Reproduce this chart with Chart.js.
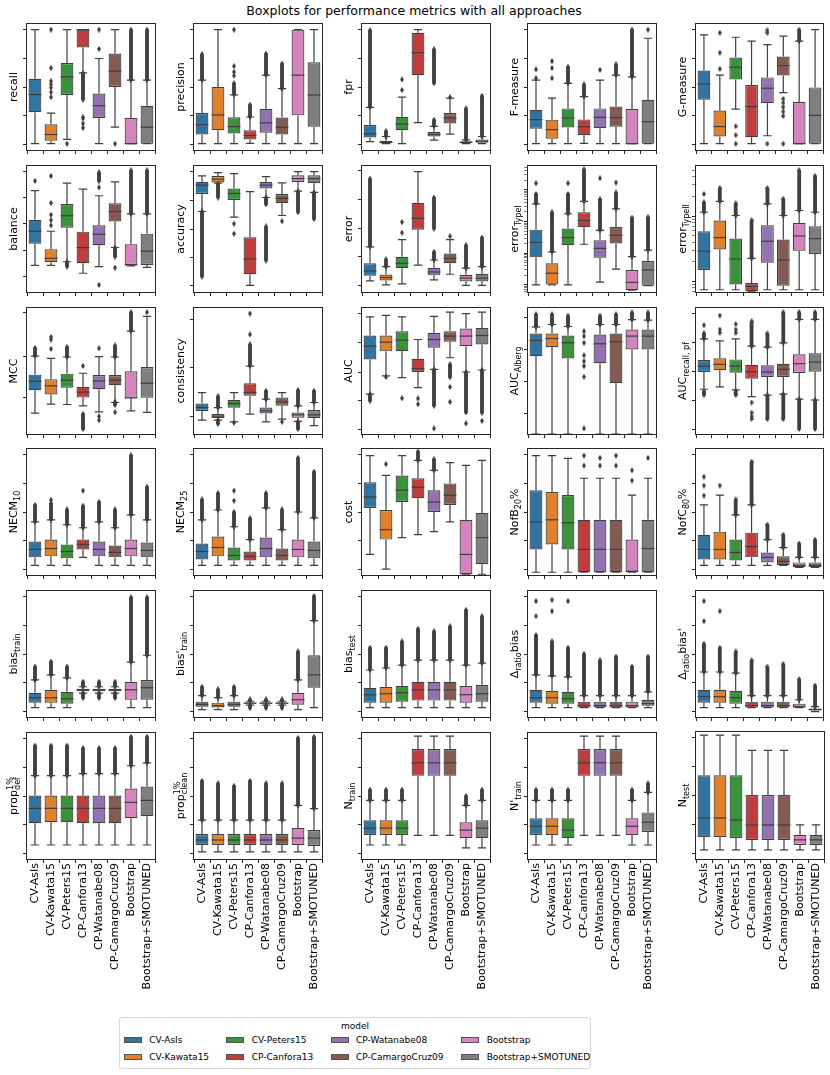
<!DOCTYPE html>
<html>
<head>
<meta charset="utf-8">
<script src="https://cdn.jsdelivr.net/npm/chart.js@4.4.1/dist/chart.umd.min.js"></script>
<style>
  body { margin: 0; background: #fff; font-family: "DejaVu Sans", sans-serif; }
  #fig { position: relative; width: 830px; height: 1075px; overflow: hidden; }
  #title { position: absolute; left: 0; width: 828px; top: 3px; text-align: center; font-size: 12.5px; color: #000; }
  #legend { position: absolute; left: 119px; top: 1017px; width: 472px; height: 52px; border: 1px solid #d8d8d8; border-radius: 3px; box-sizing: border-box; }
  .lg-title { position: absolute; left: 0; width: 100%; top: 3px; text-align: center; font-size: 9px; }
  .lg-patch { position: absolute; width: 18px; height: 6px; border: 1px solid #555; box-sizing: border-box; }
  .lg-text { position: absolute; font-size: 9px; line-height: 11px; white-space: nowrap; }
</style>
</head>
<body>
<div id="fig">
  <div id="title">Boxplots for performance metrics with all approaches</div>
  <div id="legend"><div class="lg-title">model</div></div>
</div>
<script>
const models = ["CV-AsIs", "CV-Kawata15", "CV-Peters15", "CP-Canfora13", "CP-Watanabe08", "CP-CamargoCruz09", "Bootstrap", "Bootstrap+SMOTUNED"]
const colors = ["#3274a1", "#e1812c", "#3a923a", "#c03d3e", "#9372b2", "#845b53", "#d684bd", "#7f7f7f"]

// values are read off the picture, 0 = bottom of a panel, 100 = top
// each model: [lower whisker, q1, median, q3, upper whisker]
// outliers: a number is one diamond, [a, b] is a dense run of diamonds
const recall = [[5, 30, 44, 56.5, 95.5], [5, 7.4, 12.3, 20.4, 29.3], [8.4, 43.7, 58.1, 69.1, 95.5], [61.2, 81.4, 95.5, 95.5, 95.5], [5, 25.4, 35.1, 44.8, 72.6], [18.1, 50, 62.6, 76.5, 95.5], [5, 5, 5, 25.4, 55.5], [5, 5, 18.1, 35.1, 55.5]]
const recallOut = [[], [42, 45.8, 49.5, 52.1, 54.7, 65.1, 95.5], [5], [[40, 61], 26, 25, 21, 17.6], [80.2, 95.5], [5], [[55.5, 95.5]], [[55.5, 95.5]]]

const precision = [[5, 12.3, 20.2, 29.3, 55.5], [5, 15.7, 27.8, 50, 95.5], [5, 13.1, 18.6, 25.9, 43.7], [5.3, 8.4, 11.5, 15.7, 26.2], [5, 13.7, 21.5, 32.7, 59.4], [5, 12.3, 18.1, 25.7, 48.7], [5, 27.5, 59.4, 95.5, 95.5], [5, 18.4, 43.7, 69.6, 95.5]]
const precisionOut = [[[55.5, 76]], [], [[44, 53], 59, 62, 66.5, 95.5], [[26.2, 36]], [[59.4, 76.5]], [[48.7, 68.6]], [], []]

const fpr = [[6.6, 10, 12.9, 19.9, 33.8], [5, 5.3, 6, 7.4, 10.7], [5, 15.7, 20.7, 26.4, 41.9], [21.7, 59.4, 77.3, 93, 95.5], [7.9, 10.7, 12.4, 14.4, 18.8], [12.6, 21, 25.4, 29.3, 41.1], [5, 5.3, 6, 7, 8], [5, 5.8, 7, 8.4, 10.7]]
const fprOut = [[[34, 95]], [[10.7, 15]], [47.6, 56], [], [[19, 24], [53, 80]], [41.9], [[8, 33]], [[10.7, 43]]]

const fMeasure = [[5, 16.8, 24.1, 32, 55.5], [5, 9, 16.2, 24.1, 41.1], [5, 17.8, 25.4, 33, 52.9], [5.3, 11.8, 18.4, 24.3, 42.4], [5, 17.3, 25.9, 33, 55.5], [5, 18.4, 25.7, 34.5, 59.4], [5, 5, 5, 32.5, 58.1], [5, 5, 22.4, 39.8, 88.7]]
const fMeasureOut = [[57, 64], [57, 65, 70.5], [[53, 66]], [[42.4, 52]], [63.6], [[59.4, 68]], [[58.1, 95.5]], [95.5]]

const gMeasure = [[5, 39.8, 52.3, 63.1, 91.3], [5, 10.8, 18.6, 31.4, 59.4], [32.5, 56, 65.7, 73.4, 89.5], [5, 10.2, 34.5, 51.6, 86.4], [11.3, 37.2, 49, 57.6, 83.7], [45.5, 59.2, 67, 74.2, 90.3], [5, 5, 5, 38, 86.4], [5, 5, 27.5, 49.7, 95.5]]
const gMeasureOut = [[], [64.4, 77.3, 93], [18.8, 11.8, 5], [], [5, 93, 95], [40.6, 37.5, 34, 30.5, 27, 5], [[86.4, 95.5]], []]

const balance = [[21.2, 38.2, 48.2, 57.3, 80.4], [21.2, 23.6, 26.7, 34, 48.2], [24, 51, 60.5, 69.9, 86.4], [14.9, 22.8, 35.3, 47.9, 81.7], [20.1, 37.2, 45.8, 52.9, 76.4], [35.3, 56, 63.9, 70.4, 87.4], [20.7, 21.5, 21.5, 37.9, 62], [19.6, 21.5, 32.4, 46.3, 62]]
const balanceOut = [[88.2], [52.9, 57, 61.3, 70.7, 92.1], [[20.1, 24]], [], [[88, 95], 83, 5.7], [[28, 35.3], 19.3], [[62, 96.6]], [[62, 96.6]]]

const accuracy = [[63.9, 77.8, 84.8, 87.4, 92.1], [86.4, 87, 89.5, 92.1, 94.7], [59.4, 73, 78.2, 82.2, 94], [5.2, 14.1, 26.2, 43.4, 79.6], [75, 82.2, 84.8, 87.4, 91.6], [60.7, 70.4, 74.3, 77.8, 86.6], [80, 87.4, 90, 92.7, 95.5], [79, 86.4, 90, 92.7, 95.5]]
const accuracyOut = [[[12.3, 63.9]], [[75, 86]], [54.2, 46.3], [], [[69.5, 75], [25, 52]], [56.2], [[63.3, 80]], [[58, 79]]]

const error = [[8.9, 12.8, 16.7, 22.8, 35.8], [5.7, 9.1, 11.5, 13.8, 20.1], [6.5, 18.9, 22.8, 28, 41.6], [21.4, 49.5, 58.4, 70.7, 95.5], [9.7, 13.2, 15.9, 19.3, 25.4], [14.1, 22.8, 26.7, 30.6, 41.6], [5.2, 8.3, 11, 13.6, 18.9], [5.2, 8.3, 11, 14.4, 20.1]]
const errorOut = [[[36, 90]], [[20.1, 25.9]], [47.1, 55.5], [], [[25.4, 31.9], [50.3, 75]], [44.2], [[18.9, 37.2]], [[20.1, 43.2]]]

const errorTypeI = [[5.7, 27.5, 39.3, 49.5, 69.9], [5.7, 6, 14.9, 22.8, 31.9], [5.7, 37.2, 43.2, 50.3, 62.1], [37.9, 51.5, 56.8, 63.3, 72], [7.9, 27.2, 34.6, 41.1, 48.9], [18.1, 38.5, 45, 51.5, 66], [1.5, 1.5, 7.6, 17.5, 28], [5, 5, 17.5, 24.6, 33.2]]
const errorTypeIOut = [[[70, 77.8], 86.4], [[31.9, 63.3]], [[62.1, 77.8], 86.4], [[72, 97.4]], [[48.9, 73.8], 90.3], [[66, 79], 86.9], [[28, 59]], [[33.2, 59.4]]]

const errorTypeII = [[1.8, 17.5, 32.4, 48.2, 63.3], [1.8, 33.8, 43.2, 56.8, 72], [1.8, 6, 26.2, 42.4, 60.7], [0.6, 0.6, 4.5, 7.1, 26.7], [1.8, 23.3, 40.3, 52.9, 69.9], [1.8, 5, 25.4, 41.6, 60.7], [1.8, 32.7, 44.5, 54.7, 64.7], [1.8, 30.1, 42.4, 52.1, 63.3]]
const errorTypeIIOut = [[[63.3, 71.2], 77.8], [[72, 82.5]], [[60.7, 70.4]], [[26.7, 57]], [[69.9, 82.5]], [[60.7, 74]], [[64.7, 96.6]], [[63.3, 92.1]]]

const mcc = [[16.6, 34.8, 41.9, 47.1, 61.8], [23.7, 31.3, 38.2, 43.4, 60], [23.4, 36.8, 42.7, 47.9, 61.1], [22.4, 28.9, 33.2, 37.4, 48.2], [17.6, 35.6, 42.1, 46.8, 61.4], [25, 38.7, 42.7, 46.8, 61.1], [18.4, 28.7, 28.7, 49.8, 81.6], [17.1, 28.7, 40.3, 53.2, 93.4]]
const mccOut = [[[61.8, 68.4]], [67.6, 75, 77], [[61.1, 69]], [54, [4, 16]], [68, 14, 11], [[61.1, 70.3], [23, 25.5], 17.3], [[81.6, 96.6]], [96.6]]

const consistency = [[11, 18.2, 21, 24.2, 32.9], [11, 12.6, 14.2, 15.8, 21], [9.7, 20.8, 24.2, 27.1, 32.9], [15.8, 30.3, 32.9, 40.3, 53.9], [9.7, 16.3, 18.4, 21, 27.6], [11.8, 22.4, 25.5, 28.9, 32.9], [10, 12.9, 15.2, 17.1, 22.4], [6.6, 12.6, 15.2, 19, 25]]
const consistencyOut = [[], [[21, 30], [8, 11]], [8.9], [[53.9, 71.1], 79, 95.6], [[27.6, 34.2]], [9.7], [[22.4, 34.8], [4, 10]], [[25, 34.2]]]

const auc = [[31.6, 59.2, 69.7, 78.2, 92.9], [46.1, 65.6, 72.9, 78.2, 94.2], [44.7, 65.8, 74.5, 81.6, 92.9], [36.8, 49.2, 51.8, 59.7, 75], [51.3, 68.4, 75, 80.3, 93.4], [60.5, 73.2, 77.7, 81.6, 96.7], [49.2, 69.7, 77.7, 83.7, 95.6], [50.8, 71.1, 78.2, 84.2, 96.7]]
const aucOut = [[[26.3, 31.6]], [45.2], [28.4], [28.2, 23.7], [[22.4, 51.3], 4.4], [[45, 55.3], 37.4, 25.5], [[17.1, 49.2], 8.4], [[16.8, 50.8], 10.5]]

const aucAlberg = [[0, 61.8, 74.2, 79.8, 85], [0, 69, 75.8, 79.8, 86.9], [0, 60, 72.4, 78.2, 85.3], null, [0, 56.1, 71.6, 79, 86.9], [0, 40.3, 73.2, 79.8, 86.9], [0, 67.1, 77.7, 82.9, 90.8], [0, 67.1, 77.7, 82.9, 90.3]]
const aucAlbergOut = [[[85, 95]], [[86.9, 95]], [[85.3, 94]], [81.6, 77.6, 72.4, 62.4, 57.8, 53.9, 45.4, 4.4], [[86.9, 94]], [[86.9, 95]], [[90.8, 96.5]], [[90.3, 96.5]]]

const aucRecallPf = [[35.5, 49.2, 53.9, 58.7, 75.5], [37.4, 50.6, 55.3, 60.1, 73.9], [35, 48.7, 53.9, 59.2, 75.5], [29.7, 43.9, 49.5, 55, 69.7], [30.8, 45.2, 49.2, 54.5, 68.9], [31.6, 45.2, 51.3, 55.8, 72.4], [27.6, 48.5, 55.8, 63.2, 91], [27, 49.5, 57.1, 64, 91]]
const aucRecallPfOut = [[[31, 34], [75.5, 80], 86.3], [80.3, 82.9, 94], [[31, 34], 80.3, 82.9, 87.2], [[69.7, 89.5], 25, 17, 14, 12], [[68.9, 79.8], [11.8, 30.8]], [[72.4, 96.6], [11.8, 31.6]], [[91, 96.7], [4, 27.6]], [[91, 96.7], [4, 27]]]

const necm10 = [[7.7, 14, 20.3, 26.5, 42.2], [7.7, 14.8, 21, 28.1, 43.8], [7.7, 13.2, 18.7, 24.2, 39.9], [14, 20.3, 24.2, 28.1, 37.5], [7.7, 14.8, 20.3, 26.5, 42.2], [7.7, 14, 17.9, 23.4, 37.5], [7.7, 14.8, 21, 28.1, 47.7], [7.7, 14, 19.5, 25.7, 43.8]]
const necm10Out = [[[42.2, 55.6]], [[43.8, 57], 59.5], [[39.9, 52]], [[37.5, 55], 67], [[42.2, 58]], [[37.5, 52]], [[47.7, 95]], [[43.8, 70]]]

const necm25 = [[7.7, 12.4, 18.7, 25, 43.8], [7.7, 14.8, 21.8, 30.5, 51.6], [7.7, 11.6, 15.5, 21.8, 38.3], [7.7, 11.6, 14.8, 18.7, 28.1], [7.7, 14, 21, 29.7, 53.2], [7.7, 11.6, 15.5, 21, 36], [7.7, 14, 20.3, 28.1, 50], [7.7, 13.2, 19.5, 26.5, 45.4]]
const necm25Out = [[[43.8, 60]], [[51.6, 65]], [[38.3, 50], 59, 67], [[28.1, 45]], [[53.2, 65]], [[36, 52]], [[50, 93]], [[45.4, 82]]]

const cost = [[16.3, 53.2, 61.9, 73.6, 94.8], [4.6, 28.1, 36, 51.6, 79], [29.7, 57.9, 67.3, 79, 94.8], [32, 61, 69.7, 76.8, 90.9], [34.4, 50, 57.9, 67.3, 83], [42.2, 55.5, 63.3, 72.7, 89.2], [0.6, 0.6, 16.3, 43.8, 87], [0.6, 8.5, 29.7, 49.3, 90.9]]
const costOut = [[], [88], [], [[90.9, 98]], [[83, 92]], [], [], []]

const nofB20 = [[2.2, 20.3, 42.2, 67.3, 94.8], [2.2, 24.2, 43.8, 65.8, 94.8], [2.2, 20.3, 41.4, 63.4, 92.5], [2.2, 2.2, 20.3, 43.8, 76.8], [2.2, 2.2, 20.3, 43.8, 76.8], [2.2, 2.2, 20.3, 43.8, 76.8], [2.2, 2.2, 3, 28.1, 63.4], [2.2, 2.2, 21, 43.8, 76.8]]
const nofB20Out = [[], [], [], [86.9, 94.8], [86.9, 93], [86.9, 94.8], [75, 83], [93]]

const nofC80 = [[7.7, 12.4, 20.3, 32, 55.6], [7.7, 12.4, 20.3, 34.4, 63.4], [7.7, 11.6, 17.9, 28.1, 47.7], [7.7, 14, 22.6, 33.6, 55.6], [7.7, 10, 14, 17.9, 28.1], [7.7, 7.7, 10.8, 14.8, 21.8], [6.1, 6.1, 7.7, 10, 14], [6.1, 6.1, 7.7, 10, 14]]
const nofC80Out = [[63, 71, 78], [71], [[47.7, 60]], [[55.6, 90]], [[28.1, 40]], [[21.8, 32]], [[14, 25]], [[14, 28]]]

const biasTrain = [[7.5, 11.4, 15.3, 19.2, 29.4], [7.5, 11.4, 15.3, 21.6, 33.4], [7.5, 10.6, 14.5, 20, 31], [19, 20.5, 21.5, 22.5, 24], [19, 20.5, 21.5, 22.5, 24], [19, 20.5, 21.5, 22.5, 24], [7.5, 13.7, 21.6, 27.9, 43.6], [7.5, 13.7, 23.2, 29.4, 49]]
const biasTrainOut = [[[29.4, 40]], [[33.4, 44]], [[31, 40]], [[24, 28], [15, 19]], [[24, 28], [15, 19]], [[24, 28], [15, 19]], [[43.6, 95]], [[49, 95]]]

const biasTrainP = [[5.9, 8.2, 9.8, 12.2, 16.9], [5.9, 7.5, 9, 11.4, 15.3], [5.9, 8.2, 9.8, 12.2, 16.9], [9.5, 10.5, 11, 11.5, 12.5], [9.5, 10.5, 11, 11.5, 12.5], [9.5, 10.5, 11, 11.5, 12.5], [5.9, 9.8, 13.7, 19.2, 29.4], [7.5, 23.2, 33.4, 49, 76.5]]
const biasTrainPOut = [[[16.9, 24]], [[15.3, 22]], [[16.9, 24]], [[12.5, 14], [7, 9.5]], [[12.5, 14], [7, 9.5]], [[12.5, 14], [7, 9.5]], [[29.4, 52]], [[76.5, 96]]]

const biasTest = [[7.5, 11.4, 17.7, 23.2, 37.3], [7.5, 11.4, 18.5, 23.9, 38.9], [7.5, 12.2, 19.2, 24.7, 41.2], [7.5, 13, 21.6, 27.9, 45.1], [7.5, 13, 21.6, 27.9, 45.1], [7.5, 13, 21.6, 27.9, 45.1], [7.5, 11.4, 17.7, 24.7, 41.2], [7.5, 12.2, 18.5, 25.5, 42.8]]
const biasTestOut = [[[37.3, 55]], [[38.9, 55]], [[41.2, 60]], [[45.1, 70]], [[45.1, 68]], [[45.1, 72]], [[41.2, 85]], [[42.8, 80]]]

const deltaBias = [[7.5, 11.4, 15.3, 21.6, 33.4], [7.5, 10.6, 15.3, 20.8, 32.6], [7.5, 10.6, 14.5, 20, 31.8], [7.5, 7.5, 9, 12.2, 16.9], [7.5, 7.5, 9, 12.2, 16.9], [7.5, 7.5, 9, 12.2, 16.9], [7.5, 7.5, 9, 12.2, 16.9], [7.5, 9, 10.6, 13.7, 20]]
const deltaBiasOut = [[[33.4, 65], 80, 92], [[32.6, 60], 84, 93], [[31.8, 55], 92], [[16.9, 50]], [[16.9, 45]], [[16.9, 48]], [[16.9, 40]], [[20, 48]]]

const deltaBiasP = [[7.5, 11.4, 16.1, 21.6, 35.7], [7.5, 11.4, 16.1, 21.6, 35.7], [7.5, 10.6, 15.3, 20.8, 34.8], [7.5, 7.5, 9, 12.2, 16.9], [7.5, 7.5, 9, 12.2, 16.9], [7.5, 7.5, 9, 12.2, 16.9], [7.5, 7.5, 8.2, 10.6, 13.7], [4.3, 5.1, 5.9, 6.7, 8.2]]
const deltaBiasPOut = [[[35.7, 58], 76, 92], [[35.7, 55], 84], [[34.8, 52]], [[16.9, 45]], [[16.9, 40]], [[16.9, 42]], [[13.7, 30]], [[8.2, 25]]]

const propDef = [[11.1, 28.4, 40.2, 50.4, 66.1], [11.1, 29.2, 40.2, 50.4, 66.1], [11.1, 29.2, 40.2, 50.4, 66.1], [11.1, 28.4, 40.2, 50.4, 67.7], [11.1, 28.4, 40.2, 50.4, 67.7], [11.1, 28.4, 40.2, 50.4, 67.7], [11.1, 32.4, 44.9, 55.9, 74], [11.1, 34, 46.5, 57.5, 76.3]]
const propDefOut = [[[66.1, 90]], [[66.1, 90]], [[66.1, 90]], [[67.7, 88]], [[67.7, 88]], [[67.7, 88]], [[74, 97]], [[76.3, 97]]]

const propClean = [[5.7, 11.1, 15.1, 19.8, 30.8], [5.7, 11.1, 15.1, 19.8, 30.8], [5.7, 11.1, 15.1, 19.8, 30.8], [5.7, 11.1, 15.1, 19.8, 30.8], [5.7, 11.1, 15.1, 19.8, 30.8], [5.7, 11.1, 15.1, 19.8, 30.8], [5.7, 11.1, 16.6, 24.6, 42.5], [5.7, 10.3, 16.6, 23, 40]]
const propCleanOut = [[[30.8, 62]], [[30.8, 60]], [[30.8, 58]], [[30.8, 62]], [[30.8, 60]], [[30.8, 60]], [[42.5, 96]], [[40, 97]]]

const nTrain = [[11.1, 19, 24.5, 30.8, 46.5], [11.1, 19, 24.5, 30.8, 46.5], [11.1, 19, 24.5, 30.8, 46.5], [18.8, 66, 76.3, 87.3, 97.5], [18.8, 66, 76.3, 87.3, 97.5], [18.8, 66, 76.3, 87.3, 97.5], [8.8, 16.6, 22.9, 29.2, 42.5], [8.8, 16.6, 24.5, 30.8, 46.5]]
const nTrainOut = [[[46.5, 55]], [[46.5, 55]], [[46.5, 55]], [], [], [], [[42.5, 50]], [[46.5, 55]]]

const nTrainP = [[11.1, 19, 26, 32.3, 46.5], [11.1, 19, 26, 32.3, 46.5], [11.1, 16.6, 22.9, 32.3, 46.5], [18.8, 66, 76.3, 87.3, 97.5], [18.8, 66, 76.3, 87.3, 97.5], [18.8, 66, 76.3, 87.3, 97.5], [11.1, 19, 26, 32.3, 46.5], [11.1, 21.4, 29.2, 37, 52.8]]
const nTrainPOut = [[[46.5, 55]], [[46.5, 55]], [[46.5, 55]], [], [], [], [[46.5, 55]], [[52.8, 60]]]

const nTest = [[7.2, 17.4, 32.3, 66, 97.5], [7.2, 17.4, 32.3, 66, 97.5], [7.2, 16.6, 30.8, 66, 97.5], [7.2, 15, 26.8, 50.4, 85.6], [7.2, 15, 26.8, 50.4, 85.6], [7.2, 15, 26.8, 50.4, 85.6], [7.2, 11.1, 15.1, 19, 26.8], [7.2, 11.1, 15.1, 19, 26.8]]
const nTestOut = [[], [], [], [], [], [], [], []]

// y tick positions (same 0-100 panel units)
const tLin = [4.5, 27.3, 50, 72.7, 95.5]
const tBalance = [12, 33, 54, 75, 96]
const tAccuracy = [5, 27.5, 50, 73, 96]
const tError = [5.2, 28, 50.5, 73.5, 96.6]
const tTypeI = { major: [5.7, 30.6, 56, 81], decade: 25.2 }
const tTypeII = { major: [8.3, 60.2], decade: 51.9 }
const tMcc = [28.9, 61.8, 96.6]
const tConsistency = [13.9, 52.6, 90.8]
const tAuc = [3.2, 26.3, 49.2, 72.4, 95.6]
const tAlberg = [16.3, 41.3, 67.1, 92.1]
const tRecallPf = [3.4, 26.3, 49.4, 72.9, 95.6]

const panels = [
  { label: [["recall"]], box: recall, out: recallOut, ticks: tLin },
  { label: [["precision"]], box: precision, out: precisionOut, ticks: tLin },
  { label: [["fpr"]], box: fpr, out: fprOut, ticks: tLin },
  { label: [["F-measure"]], box: fMeasure, out: fMeasureOut, ticks: tLin },
  { label: [["G-measure"]], box: gMeasure, out: gMeasureOut, ticks: tLin },
  { label: [["balance"]], box: balance, out: balanceOut, ticks: tBalance },
  { label: [["accuracy"]], box: accuracy, out: accuracyOut, ticks: tAccuracy },
  { label: [["error"]], box: error, out: errorOut, ticks: tError },
  { label: [["error"], ["TypeI", "sub"]], box: errorTypeI, out: errorTypeIOut, ticks: tTypeI },
  { label: [["error"], ["TypeII", "sub"]], box: errorTypeII, out: errorTypeIIOut, ticks: tTypeII },
  { label: [["MCC"]], box: mcc, out: mccOut, ticks: tMcc },
  { label: [["consistency"]], box: consistency, out: consistencyOut, ticks: tConsistency },
  { label: [["AUC"]], box: auc, out: aucOut, ticks: tAuc },
  { label: [["AUC"], ["Alberg", "sub"]], box: aucAlberg, out: aucAlbergOut, ticks: tAlberg },
  { label: [["AUC"], ["recall, pf", "sub"]], box: aucRecallPf, out: aucRecallPfOut, ticks: tRecallPf },
  { label: [["NECM"], ["10", "sub"]], box: necm10, out: necm10Out, ticks: tLin },
  { label: [["NECM"], ["25", "sub"]], box: necm25, out: necm25Out, ticks: tLin },
  { label: [["cost"]], box: cost, out: costOut, ticks: tLin },
  { label: [["NofB"], ["20", "sub"], ["%"]], box: nofB20, out: nofB20Out, ticks: tLin },
  { label: [["NofC"], ["80", "sub"], ["%"]], box: nofC80, out: nofC80Out, ticks: tLin },
  { label: [["bias"], ["train", "sub"]], box: biasTrain, out: biasTrainOut, ticks: tLin },
  { label: [["bias'"], ["train", "sub"]], box: biasTrainP, out: biasTrainPOut, ticks: tLin },
  { label: [["bias"], ["test", "sub"]], box: biasTest, out: biasTestOut, ticks: tLin },
  { label: [["Δ"], ["ratio", "sub"], ["bias"]], box: deltaBias, out: deltaBiasOut, ticks: tLin },
  { label: [["Δ"], ["ratio", "sub"], ["bias'"]], box: deltaBiasP, out: deltaBiasPOut, ticks: tLin },
  { label: [["prop"], ["1%", "sup"], ["def", "sub"]], box: propDef, out: propDefOut, ticks: tLin },
  { label: [["prop"], ["1%", "sup"], ["clean", "sub"]], box: propClean, out: propCleanOut, ticks: tLin },
  { label: [["N"], ["train", "sub"]], box: nTrain, out: nTrainOut, ticks: tLin },
  { label: [["N'"], ["train", "sub"]], box: nTrainP, out: nTrainPOut, ticks: tLin },
  { label: [["N"], ["test", "sub"]], box: nTest, out: nTestOut, ticks: tLin }
]

Chart.defaults.font.family = '"DejaVu Sans", sans-serif'
Chart.defaults.animation = false

const lineColor = "#3f3f3f"
const frameColor = "#262626"
const colLeft = [27, 194, 362, 528, 696]
const rowTop = [23, 165, 307, 448, 590, 732]
const plotW = 129, plotH = 127
const padL = 32, padT = 4, padR = 4

// thin diamond used for the fliers
const diamond = document.createElement("canvas")
diamond.width = 4
diamond.height = 6
const dctx = diamond.getContext("2d")
dctx.fillStyle = lineColor
dctx.beginPath()
dctx.moveTo(2, 0); dctx.lineTo(4, 3); dctx.lineTo(2, 6); dctx.lineTo(0, 3)
dctx.closePath()
dctx.fill()

function tickList(spec) {
  if (Array.isArray(spec)) return spec.map(v => ({ value: v }))
  const list = []
  const starts = [spec.major[0] - spec.decade].concat(spec.major)
  starts.forEach((m, i) => {
    if (i > 0) list.push({ value: m })
    for (let k = 2; k < 10; k++) list.push({ value: m + spec.decade * Math.log10(k), minor: true })
  })
  return list.filter(t => t.value >= 0 && t.value <= 100)
}

function drawLabel(ctx, parts, cx, cy) {
  const big = '11px "DejaVu Sans"', small = '8px "DejaVu Sans"'
  const items = []
  let w = 0, prev = null, supStart = 0, supW = 0
  ctx.save()
  parts.forEach(([text, kind = "n"]) => {
    ctx.font = kind === "n" ? big : small
    const tw = ctx.measureText(text).width
    if (kind === "sub" && prev === "sup") {
      items.push({ text, kind, x: supStart })
      w = supStart + Math.max(tw, supW)
    } else {
      items.push({ text, kind, x: w })
      if (kind === "sup") { supStart = w; supW = tw }
      w += tw
    }
    prev = kind
  })
  ctx.translate(cx, cy)
  ctx.rotate(-Math.PI / 2)
  ctx.fillStyle = "#000"
  ctx.textBaseline = "alphabetic"
  items.forEach(it => {
    ctx.font = it.kind === "n" ? big : small
    const dy = it.kind === "sub" ? 3 : it.kind === "sup" ? -4.5 : 0
    ctx.fillText(it.text, it.x - w / 2, 4 + dy)
  })
  ctx.restore()
}

function boxPlugin(p) {
  return {
    id: "boxparts",
    beforeDatasetsDraw(chart) {
      const { ctx } = chart
      const x = chart.scales.x, y = chart.scales.y
      const half = x.width / models.length * 0.26
      ctx.save()
      ctx.strokeStyle = lineColor
      ctx.lineWidth = 1.2
      p.box.forEach((b, i) => {
        if (!b) return
        const px = x.getPixelForValue(i)
        const lo = y.getPixelForValue(b[0]), hi = y.getPixelForValue(b[4])
        ctx.beginPath()
        ctx.moveTo(px, y.getPixelForValue(b[3])); ctx.lineTo(px, hi)
        ctx.moveTo(px, y.getPixelForValue(b[1])); ctx.lineTo(px, lo)
        ctx.moveTo(px - half, hi); ctx.lineTo(px + half, hi)
        ctx.moveTo(px - half, lo); ctx.lineTo(px + half, lo)
        ctx.stroke()
      })
      ctx.restore()
    },
    afterDatasetsDraw(chart) {
      const { ctx } = chart
      const x = chart.scales.x, y = chart.scales.y
      const half = x.width / models.length * 0.4
      ctx.save()
      ctx.strokeStyle = lineColor
      ctx.lineWidth = 1.2
      p.box.forEach((b, i) => {
        if (!b) return
        const px = x.getPixelForValue(i), py = y.getPixelForValue(b[2])
        ctx.beginPath()
        ctx.moveTo(px - half, py); ctx.lineTo(px + half, py)
        ctx.stroke()
      })
      ctx.restore()
    },
    afterDraw(chart) {
      const { ctx, chartArea: a } = chart
      ctx.save()
      ctx.strokeStyle = frameColor
      ctx.lineWidth = 1
      ctx.strokeRect(Math.round(a.left) - 0.5, Math.round(a.top) - 0.5, Math.round(a.right - a.left) + 1, Math.round(a.bottom - a.top) + 1)
      ctx.restore()
      drawLabel(ctx, p.label, a.left - 14, (a.top + a.bottom) / 2)
    }
  }
}

const fig = document.getElementById("fig")

panels.forEach((p, i) => {
  const row = Math.floor(i / 5), col = i % 5
  const bottom = row === 5
  const xh = bottom ? 140 : 8
  const w = padL + (col === 4 ? plotW - 1 : plotW) + padR
  const h = padT + plotH + xh
  const canvas = document.createElement("canvas")
  canvas.width = w
  canvas.height = h
  canvas.style.cssText = `position:absolute;left:${colLeft[col] - padL}px;top:${rowTop[row] - padT}px;width:${w}px;height:${h}px`
  fig.appendChild(canvas)

  const runsA = models.map(() => null)
  const runsB = models.map(() => null)
  const points = []
  p.out.forEach((list, m) => {
    let k = 0
    list.forEach(o => {
      if (Array.isArray(o)) {
        (k++ === 0 ? runsA : runsB)[m] = o
        points.push({ x: models[m], y: o[0] }, { x: models[m], y: o[1] })
      } else {
        points.push({ x: models[m], y: o })
      }
    })
  })
  const ticks = tickList(p.ticks)

  new Chart(canvas, {
    type: "bar",
    data: {
      labels: models,
      datasets: [
        {
          data: p.box.map(b => (b ? [b[1], b[3]] : null)),
          backgroundColor: colors,
          borderColor: lineColor,
          borderWidth: 1.2,
          borderSkipped: false,
          barPercentage: 0.8,
          categoryPercentage: 1,
          grouped: false,
          order: 3
        },
        { data: runsA, backgroundColor: lineColor, barPercentage: 0.24, categoryPercentage: 1, grouped: false, order: 2 },
        { data: runsB, backgroundColor: lineColor, barPercentage: 0.24, categoryPercentage: 1, grouped: false, order: 2 },
        { type: "scatter", data: points, pointStyle: diamond, pointRadius: 3, order: 1 }
      ]
    },
    options: {
      responsive: false,
      events: [],
      layout: { padding: { left: 0, top: padT, right: padR, bottom: 0 } },
      plugins: { legend: { display: false }, tooltip: { enabled: false } },
      scales: {
        x: {
          offset: true,
          grid: { drawOnChartArea: false, tickLength: 4, color: frameColor },
          border: { display: false },
          ticks: { display: bottom, autoSkip: false, minRotation: 90, maxRotation: 90, color: "#000", font: { size: 11 }, padding: 0 },
          afterFit(s) { s.height = xh; s.paddingLeft = 0; s.paddingRight = 0 }
        },
        y: {
          min: 0,
          max: 100,
          afterBuildTicks(s) { s.ticks = ticks.map(t => ({ ...t })) },
          grid: {
            drawOnChartArea: false,
            tickLength: 4,
            color: frameColor,
            tickWidth: c => (c.tick && c.tick.minor ? 0.6 : 1)
          },
          border: { display: false },
          ticks: { display: false, autoSkip: false },
          afterFit(s) { s.width = padL; s.paddingTop = 0; s.paddingBottom = 0 }
        }
      }
    },
    plugins: [boxPlugin(p)]
  })
})

// legend, laid out column-wise like the original
const legend = document.getElementById("legend")
const legendX = [[3.7, 29.3], [106, 131.7], [211, 236], [341, 366.7]]
const legendY = [22.7, 39]
models.forEach((m, i) => {
  const c = Math.floor(i / 2), r = i % 2
  const patch = document.createElement("div")
  patch.className = "lg-patch"
  patch.style.left = legendX[c][0] + "px"
  patch.style.top = (legendY[r] - 3.5) + "px"
  patch.style.background = colors[i]
  legend.appendChild(patch)
  const text = document.createElement("div")
  text.className = "lg-text"
  text.style.left = legendX[c][1] + "px"
  text.style.top = (legendY[r] - 5.5) + "px"
  text.textContent = m
  legend.appendChild(text)
})
</script>
</body>
</html>
